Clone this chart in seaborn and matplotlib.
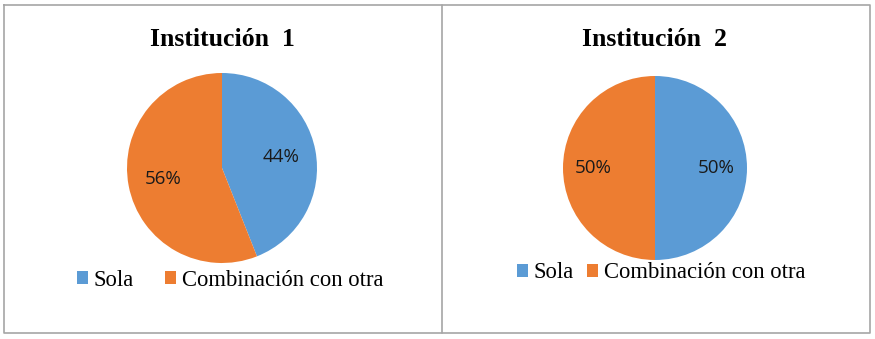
import matplotlib
matplotlib.use("Agg")
import matplotlib.pyplot as plt
from matplotlib.lines import Line2D
import seaborn as sns

# data
categories = ["Sola", "Combinación con otra"]
inst1_values = [44, 56]
inst2_values = [50, 50]
titles = ["Institución  1", "Institución  2"]

sns.set_style("white")
plt.rcParams["font.family"] = ["Liberation Serif", "DejaVu Serif"]
colors = sns.color_palette(["#5B9BD5", "#ED7D31"])

W, H = 875, 339
fig = plt.figure(figsize=(W / 100, H / 100), dpi=100)


def px_axes(cx, cy, r):
    # square axes centred on (cx, cy) in pixels from top-left
    return fig.add_axes([(cx - r) / W, 1 - (cy + r) / H, 2 * r / W, 2 * r / H])


panels = [
    # pie centre x, y, radius, pctdistance, title y, legend x, y, column spacing
    dict(vals=inst1_values, cx=222, cy=168, r=95, pd=0.63, ty=39, lx=230, ly=280, cs=1.35),
    dict(vals=inst2_values, cx=655, cy=168, r=92, pd=0.67, ty=39, lx=661, ly=273, cs=0.55),
]

for p, title in zip(panels, titles):
    ax = px_axes(p["cx"], p["cy"], p["r"])
    wedges, _, autotexts = ax.pie(
        p["vals"], colors=colors, startangle=90, counterclock=False,
        autopct="%1.0f%%", pctdistance=p["pd"],
        wedgeprops=dict(linewidth=0),
        textprops=dict(family="Open Sans", fontsize=13.5, color="#1a1a1a"),
    )
    ax.set_xlim(-1, 1)
    ax.set_ylim(-1, 1)
    fig.text(p["cx"] / W, 1 - p["ty"] / H, title, ha="center", va="center",
             fontsize=18.5, fontweight="bold", color="black")
    fig.legend(wedges, categories, loc="center",
               bbox_to_anchor=(p["lx"] / W, 1 - p["ly"] / H),
               ncol=2, frameon=False, fontsize=16.3, borderpad=0,
               labelcolor="black",
               handlelength=0.5, handleheight=0.5, handletextpad=0.25,
               columnspacing=p["cs"])

# table-like borders around the two panels
border = dict(color="#A6A6A6", linewidth=1.2, transform=fig.transFigure)
x0, x1, xm = 4 / W, 870 / W, 442 / W
y0, y1 = 1 - 5 / H, 1 - 333 / H
fig.add_artist(Line2D([x0, x1, x1, x0, x0], [y0, y0, y1, y1, y0], **border))
fig.add_artist(Line2D([xm, xm], [y0, y1], **border))

fig.savefig("out.png", dpi=100)
